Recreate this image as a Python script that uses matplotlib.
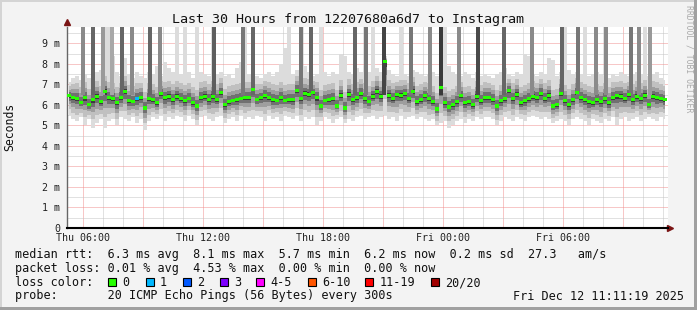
import matplotlib
matplotlib.use("Agg")
import matplotlib.pyplot as plt
import numpy as np
from matplotlib.patches import Rectangle

plt.rcParams['font.family'] = ['DejaVu Sans Mono']
plt.rcParams['lines.scale_dashes'] = False

# Configuration
W, H = 697, 310
START_H = 5 + 11 / 60 + 19 / 3600   # Thu 05:11:19, hours since Thu 00:00
STEP_H = 0.2                        # one sample every 12 minutes

# median rtt in ms, one value per 12 min
median_ms = [
    6.45, 6.35, 6.3, 6.1, 6.35, 6.0, 6.25, 6.4, 6.15, 6.65, 6.35, 6.3, 6.1, 6.35, 6.65,
    6.2, 6.15, 6.3, 6.35, 5.85, 6.3, 6.25, 6.1, 6.55, 6.35, 6.4, 6.25, 6.4, 6.3, 6.2,
    6.3, 6.1, 5.95, 6.35, 6.4, 6.25, 6.4, 6.25, 6.6, 6.0, 6.15, 6.2, 6.25, 6.3, 6.35,
    6.35, 6.75, 6.25, 6.35, 6.45, 6.35, 6.25, 6.2, 6.35, 6.2, 6.25, 6.25, 6.7, 6.3, 6.55,
    6.5, 6.6, 6.35, 5.95, 6.2, 6.25, 6.3, 5.95, 6.45, 5.85, 6.5, 6.25, 6.35, 6.55, 6.3,
    6.15, 6.4, 6.65, 6.4, 8.1, 6.45, 6.3, 6.5, 6.45, 6.55, 6.3, 6.65, 6.15, 6.25, 6.45,
    6.3, 6.15, 5.8, 6.85, 6.1, 5.9, 6.0, 6.15, 6.45, 6.1, 6.15, 6.0, 6.4, 6.2, 6.35,
    6.35, 6.25, 5.95, 6.2, 6.3, 6.7, 6.3, 6.5, 6.1, 6.2, 6.3, 6.4, 6.35, 6.55, 6.3,
    6.45, 5.95, 6.0, 6.55, 6.2, 6.0, 6.25, 6.6, 6.35, 6.25, 6.15, 6.1, 6.25, 6.15, 6.3,
    6.1, 6.35, 6.45, 6.4, 6.3, 6.5, 6.25, 6.4, 6.3, 6.45, 6.0, 6.4, 6.35, 6.3, 6.25,
]

# fastest ping of each sample (bottom of the smoke)
low_ms = [
    5.5, 5.3, 5.2, 5.4, 5.0, 5.3, 4.9, 5.1, 5.3, 4.9, 5.2, 5.3, 5.0, 5.4, 5.3,
    5.2, 5.4, 5.1, 5.3, 4.8, 5.2, 5.4, 5.3, 5.5, 5.2, 5.4, 5.3, 5.5, 5.4, 5.2,
    5.5, 5.3, 5.0, 5.4, 5.5, 5.3, 5.2, 5.4, 5.5, 5.1, 5.3, 5.4, 5.2, 5.5, 5.3,
    5.4, 5.3, 5.5, 5.4, 5.2, 5.5, 5.3, 5.4, 5.2, 5.5, 5.4, 5.3, 5.5, 5.2, 5.4,
    5.3, 5.4, 5.0, 5.2, 5.4, 5.3, 5.1, 5.3, 5.4, 5.1, 5.3, 5.2, 5.4, 5.5, 5.3,
    5.4, 5.5, 5.3, 5.4, 5.5, 5.3, 5.4, 5.2, 5.5, 5.3, 5.4, 5.5, 5.3, 5.4, 5.3,
    5.2, 5.3, 5.0, 5.1, 5.2, 4.9, 5.0, 5.2, 5.3, 5.1, 5.3, 5.2, 5.4, 5.3, 5.4,
    5.4, 5.3, 5.0, 5.2, 5.4, 5.3, 5.2, 5.4, 5.3, 5.2, 5.4, 5.5, 5.4, 5.3, 5.4,
    5.3, 5.1, 5.2, 5.3, 5.2, 5.0, 5.3, 5.4, 5.3, 5.2, 5.0, 5.3, 5.2, 5.1, 5.3,
    5.2, 5.4, 5.0, 5.3, 5.4, 5.2, 5.3, 5.4, 5.2, 5.3, 5.4, 5.3, 5.2, 5.4, 5.3,
]

# slowest ping of each sample (top of the smoke, 9.8 = off the chart)
high_ms = [
    7.1, 7.3, 7.4, 7.2, 7.5, 7.3, 7.4, 7.6, 7.7, 9.8, 9.8, 8.4, 7.6, 7.4, 8.3,
    7.5, 7.3, 7.6, 7.4, 7.3, 7.6, 7.5, 7.9, 7.4, 8.1, 7.8, 7.6, 9.8, 7.5, 9.8,
    7.6, 7.3, 9.8, 7.6, 7.5, 7.4, 9.8, 7.5, 7.6, 7.4, 7.5, 7.3, 7.8, 8.1, 9.8,
    7.5, 7.6, 7.4, 7.3, 7.5, 7.6, 7.4, 7.6, 8.0, 8.8, 9.8, 7.5, 7.7, 7.6, 7.9,
    7.6, 7.4, 7.5, 9.8, 7.6, 7.4, 7.6, 7.5, 8.5, 8.4, 7.6, 7.5, 7.8, 7.6, 7.9,
    7.6, 9.8, 7.8, 7.6, 8.4, 7.7, 7.5, 7.4, 9.8, 7.5, 7.4, 7.7, 7.6, 7.5, 7.4,
    7.5, 7.6, 7.4, 9.8, 9.8, 7.9, 7.6, 7.5, 7.4, 7.6, 7.5, 7.3, 7.6, 7.4, 7.5,
    7.4, 7.3, 7.5, 7.6, 7.8, 7.5, 7.4, 7.6, 7.5, 8.5, 8.4, 7.5, 7.4, 7.6, 7.5,
    8.3, 8.2, 7.4, 7.6, 9.8, 7.7, 7.5, 7.6, 7.5, 9.8, 7.4, 7.5, 7.6, 7.5, 7.4,
    7.3, 7.5, 7.4, 7.6, 7.5, 7.4, 7.5, 7.6, 7.5, 9.8, 7.4, 7.5, 7.6, 7.3, 7.2,
]

# samples with packet loss (index into the arrays above, lost pings)
loss_index = [17]
loss_count = [1]

# dark smoke columns that run off the top (hour of day, grey level)
spike_hours = [5.99, 6.49, 6.99, 7.44, 7.94, 8.44, 9.34, 9.84, 12.54, 13.99,
               14.49, 16.89, 17.39, 19.59, 20.14, 21.04, 22.39, 23.34, 23.89, 24.79,
               25.74, 27.04, 28.44, 29.94, 30.74, 31.64, 32.14, 33.39, 33.79, 34.34]
spike_grey = ['#8a8a8a', '#666666', '#999999', '#a8a8a8', '#666666', '#8a8a8a',
              '#666666', '#8a8a8a', '#5e5e5e', '#777777', '#666666', '#777777',
              '#666666', '#666666', '#777777', '#444444', '#777777', '#8a8a8a',
              '#3a3a3a', '#8a8a8a', '#4a4a4a', '#666666', '#8a8a8a', '#666666',
              '#777777', '#8a8a8a', '#8a8a8a', '#777777', '#8a8a8a', '#999999']

tick_hours = [6, 12, 18, 24, 30]
tick_labels = ['Thu 06:00', 'Thu 12:00', 'Thu 18:00', 'Fri 00:00', 'Fri 06:00']
y_ticks = [0, 1, 2, 3, 4, 5, 6, 7, 8, 9]
y_labels = ['0', '1 m', '2 m', '3 m', '4 m', '5 m', '6 m', '7 m', '8 m', '9 m']

loss_names = ['0', '1', '2', '3', '4-5', '6-10', '11-19', '20/20']
loss_colors = ['#26ff00', '#00b8ff', '#0059ff', '#7e00ff', '#ff00ff', '#ff5500', '#ff0000', '#a10000']

fig = plt.figure(figsize=(W / 100, H / 100), dpi=100, facecolor='#f3f3f3')
ax = fig.add_axes([67 / W, (H - 228) / H, 601 / W, 201 / H])
ax.set_facecolor('white')
ax.set_xlim(START_H, START_H + 601 / 20)
ax.set_ylim(0, 9.8)

# grid: grey every hour / half ms, red every 3 hours / ms
for h in np.arange(6, 36, 1):
    major = h % 3 == 0
    ax.axvline(h, color='#f09090' if major else '#c4c4c4', lw=0.72,
               linestyle=(0, (0.72, 0.72)), zorder=0.5)
for v in np.arange(0.5, 9.8, 0.5):
    major = v % 1 == 0
    ax.axhline(v, color='#f09090' if major else '#c4c4c4', lw=0.72,
               linestyle=(0, (0.72, 0.72)), zorder=0.5)

t = START_H + STEP_H * (np.arange(len(median_ms)) + 0.5)
med = np.array(median_ms)
lo = np.array(low_ms)
hi = np.array(high_ms)

# smoke: outer band first, darker bands toward the median
ax.fill_between(t, lo, hi, step='mid', color='#dcdcdc', lw=0, zorder=1)
hi_core = np.minimum(hi, med + 1.1)
for frac, col in zip([0.7, 0.45, 0.25, 0.1], ['#c0c0c0', '#9e9e9e', '#707070', '#3c3c3c']):
    ax.fill_between(t, med - (med - lo) * frac, med + (hi_core - med) * frac,
                    step='mid', color=col, lw=0, zorder=1.2)

for sh, sg in zip(spike_hours, spike_grey):
    ax.bar(sh, 9.8 - 6.5, bottom=6.5, width=0.16, color=sg, lw=0, zorder=1.5)

# median, coloured by loss
colors = [loss_colors[0]] * len(med)
for i, n in zip(loss_index, loss_count):
    colors[i] = loss_colors[n]
ax.scatter(t, med, s=5, marker='s', c=colors, lw=0, zorder=3)

# axes
for s in ['top', 'right']:
    ax.spines[s].set_visible(False)
ax.spines['left'].set_color('#666666')
ax.spines['left'].set_linewidth(1)
ax.spines['bottom'].set_color('black')
ax.spines['bottom'].set_linewidth(1.5)
ax.plot([0], [1.025], marker='^', color='#7a1414', ms=5, transform=ax.transAxes, clip_on=False)
ax.plot([1.004], [0], marker='>', color='#7a1414', ms=5, transform=ax.transAxes, clip_on=False)

ax.set_xticks(tick_hours)
ax.set_xticklabels(tick_labels, fontsize=7.2, color='#222222')
ax.set_yticks(y_ticks)
ax.set_yticklabels(y_labels, fontsize=7.2, color='#222222')
ax.tick_params(axis='x', length=0, pad=3.5)
ax.tick_params(axis='y', length=0, pad=5)

fig.text(348 / W, 1 - 19 / H, 'Last 30 Hours from 12207680a6d7 to Instagram',
         ha='center', va='center', fontsize=9.6, color='#111111')
fig.text(10 / W, 1 - 127 / H, 'Seconds', rotation=90, ha='center', va='center',
         fontsize=8.3, color='#111111')
fig.text(689 / W, 1 - 59 / H, 'RRDTOOL / TOBI OETIKER', rotation=270, ha='center',
         va='center', fontsize=5.9, color='#aaaaaa')

# legend
lines = [
    'median rtt:  6.3 ms avg  8.1 ms max  5.7 ms min  6.2 ms now  0.2 ms sd  27.3   am/s',
    'packet loss: 0.01 % avg  4.53 % max  0.00 % min  0.00 % now',
    'loss color:',
    'probe:       20 ICMP Echo Pings (56 Bytes) every 300s',
]
for k, txt in enumerate(lines):
    fig.text(15 / W, 1 - (254.5 + 13.8 * k) / H, txt, ha='left', va='center',
             fontsize=8.5, color='#111111')
fig.text(513 / W, 1 - 296 / H, 'Fri Dec 12 11:11:19 2025', ha='left', va='center',
         fontsize=8.5, color='#111111')

box_x = [108, 145.5, 182.5, 219.5, 256, 307.5, 365, 431]
for bx, name, col in zip(box_x, loss_names, loss_colors):
    fig.add_artist(Rectangle((bx / W, 1 - 286 / H), 8 / W, 8 / H, transform=fig.transFigure,
                             facecolor=col, edgecolor='black', lw=0.8))
    fig.text((bx + 14.5) / W, 1 - 282.5 / H, name, ha='left', va='center',
             fontsize=8.5, color='#111111')

# 3d-ish frame
fig.add_artist(Rectangle((0, 1 - 2 / H), 1, 2 / H, transform=fig.transFigure, color='#d4d4d4', lw=0))
fig.add_artist(Rectangle((0, 0), 2 / W, 1, transform=fig.transFigure, color='#d4d4d4', lw=0))
fig.add_artist(Rectangle((0, 0), 1, 3 / H, transform=fig.transFigure, color='#a0a0a0', lw=0))
fig.add_artist(Rectangle((1 - 3 / W, 0), 3 / W, 1, transform=fig.transFigure, color='#a0a0a0', lw=0))

fig.savefig('out.png', dpi=100, facecolor=fig.get_facecolor())
